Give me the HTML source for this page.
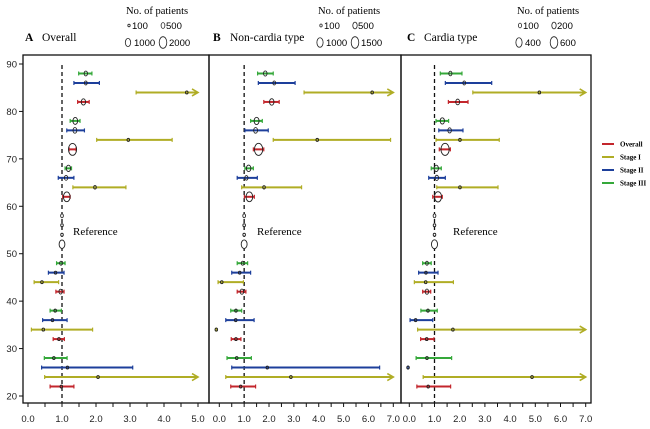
<!DOCTYPE html>
<html><head><meta charset="utf-8"><style>
html,body{margin:0;padding:0;background:#fff;width:650px;height:429px;overflow:hidden}
svg{display:block}
.serif{font-family:"Liberation Serif",serif}
.sans{font-family:"Liberation Sans",sans-serif}
</style></head><body>
<svg id="chart" width="650" height="429" xmlns="http://www.w3.org/2000/svg"></svg>
<script>
// rows (y positions in data units) and series per row
const rowY = [88,86,84,82,78,76,74,72,68,66,64,62,48,46,44,42,38,36,34,32,28,26,24,22];
const rowSeries = ['III','II','I','O','III','II','I','O','III','II','I','O','III','II','I','O','III','II','I','O','III','II','I','O'];
const refY = [58,56,54,52];
// Panel A values (hi null = arrow beyond axis)
const ptA = [1.70,1.70,4.67,1.63,1.39,1.38,2.95,1.31,1.19,1.12,1.97,1.14,0.97,0.81,0.41,0.96,0.80,0.72,0.45,0.91,0.76,1.16,2.06,0.98];
const loA = [1.49,1.35,3.18,1.46,1.24,1.14,2.02,1.21,1.09,0.89,1.32,1.02,0.84,0.60,0.18,0.82,0.65,0.43,0.10,0.74,0.48,0.40,0.49,0.65];
const hiA = [1.88,2.10,null,1.80,1.53,1.66,4.24,1.41,1.28,1.35,2.88,1.24,1.09,1.06,0.90,1.06,0.98,1.15,1.90,1.07,1.15,3.08,null,1.35];
const nA  = [300,200,60,500,600,400,100,1800,500,300,150,1200,200,60,60,300,100,60,40,60,60,40,30,60];
const refNA = [200,40,40,900];
// Panel B
const ptB = [1.85,2.21,6.15,2.11,1.50,1.46,3.94,1.58,1.18,1.09,1.80,1.21,0.94,0.82,0.10,0.91,0.67,0.66,-0.12,0.67,0.70,1.93,2.88,0.86];
const loB = [1.54,1.57,3.41,1.79,1.26,1.03,2.17,1.37,1.03,0.72,0.90,1.01,0.72,0.50,-0.05,0.72,0.46,0.26,-0.12,0.48,0.31,0.50,0.26,0.46];
const hiB = [2.17,3.05,null,2.41,1.73,1.97,6.89,1.79,1.37,1.53,3.31,1.41,1.14,1.26,0.97,1.07,0.90,1.40,-0.12,0.87,1.29,6.45,null,1.46];
const nB  = [250,150,40,400,500,300,80,1400,400,200,100,900,150,40,40,250,60,40,20,40,40,30,20,40];
const refNB = [150,30,30,700];
// Panel C
const ptC = [1.63,2.18,5.16,1.92,1.31,1.60,2.01,1.42,1.07,1.09,2.01,1.14,0.70,0.66,0.65,0.70,0.74,0.25,1.73,0.69,0.70,-0.05,4.87,0.75];
const loC = [1.23,1.43,2.52,1.55,1.06,1.17,1.06,1.19,0.87,0.77,1.09,0.93,0.53,0.37,0.20,0.53,0.46,0.03,0.33,0.45,0.27,-0.05,0.55,0.30];
const hiC = [2.09,3.27,null,2.33,1.56,2.13,3.57,1.63,1.27,1.43,3.52,1.31,0.87,1.14,1.75,0.85,1.11,0.93,null,0.98,1.68,-0.05,null,1.64];
const nC  = [80,60,20,120,150,100,30,550,150,100,30,400,60,30,20,100,30,20,20,30,30,10,10,30];
const refNC = [60,15,15,300];
const yTicks = [20,30,40,50,60,70,80,90];
const colors = {O:'#c3262c', I:'#b0ad25', II:'#1d3f9b', III:'#35a83a'};
const legendNames = ['Overall','Stage  I','Stage II','Stage III'];
const legendKeys = ['O','I','II','III'];

const svg = document.getElementById('chart');
const NS = 'http://www.w3.org/2000/svg';
function mk(tag, attrs, parent){
  const e = document.createElementNS(NS, tag);
  for (const k in attrs) e.setAttribute(k, attrs[k]);
  (parent||svg).appendChild(e); return e;
}
const yTop = 55, yBot = 403;
function yS(v){ return 64 + (90 - v) * (396 - 64) / 70; }

const panels = [
  {key:'A', title:'Overall', l:23, r:209, x0:28, x1:198, max:5, pt:ptA, lo:loA, hi:hiA, n:nA, refN:refNA, nMax:2000, leg:['100','500','1000','2000'], legN:[100,500,1000,2000], titleX:25, legX:126, refTextX:73},
  {key:'B', title:'Non-cardia type', l:209, r:401, x0:219.3, x1:393.3, max:7, pt:ptB, lo:loB, hi:hiB, n:nB, refN:refNB, nMax:1500, leg:['100','500','1000','1500'], legN:[100,500,1000,1500], titleX:213, legX:318, refTextX:257},
  {key:'C', title:'Cardia type', l:401, r:591, x0:409.3, x1:585.7, max:7, pt:ptC, lo:loC, hi:hiC, n:nC, refN:refNC, nMax:600, leg:['100','200','400','600'], legN:[100,200,400,600], titleX:407, legX:517, refTextX:453}
];

panels.forEach((p, pi) => {
  const g = mk('g', {});
  
  
  const xS = v => p.x0 + v * (p.x1 - p.x0) / p.max;
  const rx = n => 4.3 * Math.sqrt(n / p.nMax);
  const ry = n => 6.3 * Math.sqrt(n / p.nMax);
  // titles
  const tl = mk('text', {x:p.titleX, y:41, 'font-size':11.5, 'font-weight':'bold', class:'serif'}, g);
  tl.textContent = p.key;
  
  
  const tt = mk('text', {x:p.titleX + 17, y:41, 'font-size':11.5, class:'serif'}, g);
  tt.textContent = p.title;
  
  
  // size legend
  const lg = mk('g', {}, g);
  
  
  const lt = mk('text', {x:p.legX, y:14, 'font-size':10.5, class:'serif'}, lg);
  lt.textContent = 'No. of patients';
  const pos = [[p.legX+3,29],[p.legX+37,29],[p.legX+2,46],[p.legX+37,46]];
  p.leg.forEach((lab, i) => {
    const [lx, ly] = pos[i];
    const n = p.legN[i];
    const r1 = Math.max(1.2, 3.8*Math.sqrt(n/p.nMax)), r2 = Math.max(1.2, 5.8*Math.sqrt(n/p.nMax));
    const c = mk('ellipse', {cx:lx, cy:ly-3.5, rx:r1, ry:r2, fill:'none', stroke:'#222', 'stroke-width':0.8}, lg);
    
    
    const t = mk('text', {x:lx + (i >= 2 ? 6 : 3), y:ly, 'font-size':9.5, class:'sans'}, lg);
    t.textContent = lab;
  });
  // frame
  const fr = mk('rect', {x:p.l, y:yTop, width:p.r-p.l, height:yBot-yTop, fill:'none', stroke:'#111', 'stroke-width':1.3}, g);
  
  
  // x axis ticks
  for (let v = 0; v <= p.max + 1e-9; v += 0.5) {
    mk('line', {x1:xS(v), x2:xS(v), y1:yBot, y2:yBot+4, stroke:'#111', 'stroke-width':1}, g);
    if (Math.abs(v - Math.round(v)) < 1e-9) {
      const t = mk('text', {x:xS(v), y:422, 'font-size':9.5, 'text-anchor':'middle', class:'sans', fill:'#222'}, g);
      t.textContent = v.toFixed(1);
      
      
    }
  }
  // y axis (panel A only)
  if (pi === 0) {
    yTicks.forEach(v => {
      mk('line', {x1:p.l-4, x2:p.l, y1:yS(v), y2:yS(v), stroke:'#111', 'stroke-width':1}, g);
      const t = mk('text', {x:p.l-6, y:yS(v)+3.5, 'font-size':9.5, 'text-anchor':'end', class:'sans', fill:'#222'}, g);
      t.textContent = v;
      
      
    });
  }
  // reference line
  const rl = mk('line', {x1:xS(1), x2:xS(1), y1:yTop+10, y2:yBot, stroke:'#111', 'stroke-width':1.3, 'stroke-dasharray':'4,3'}, g);
  
  
  // reference circles
  refY.forEach((yv, i) => {
    const c = mk('ellipse', {cx:xS(1), cy:yS(yv), rx:Math.max(1.3, rx(p.refN[i])), ry:Math.max(1.5, ry(p.refN[i])), fill:'#fff', stroke:'#222', 'stroke-width':0.9}, g);
    
    
  });
  const rt = mk('text', {x:p.refTextX, y:235, 'font-size':11, class:'serif'}, g);
  rt.textContent = 'Reference';
  
  
  // series rows
  rowY.forEach((yv, i) => {
    const col = colors[rowSeries[i]];
    const y = yS(yv);
    const lo = xS(p.lo[i]);
    const arrow = p.hi[i] === null;
    const hi = arrow ? xS(p.max) : xS(p.hi[i]);
    const row = mk('g', {}, g);
    
    
    mk('line', {x1:lo, x2:hi, y1:y, y2:y, stroke:col, 'stroke-width':2}, row);
    mk('line', {x1:lo, x2:lo, y1:y-2, y2:y+2, stroke:col, 'stroke-width':1.2}, row);
    if (arrow) {
      mk('path', {d:`M${hi-6},${y-3.5} L${hi},${y} L${hi-6},${y+3.5}`, fill:'none', stroke:col, 'stroke-width':1.6}, row);
    } else {
      mk('line', {x1:hi, x2:hi, y1:y-2, y2:y+2, stroke:col, 'stroke-width':1.2}, row);
    }
    const pt = mk('ellipse', {cx:xS(p.pt[i]), cy:y, rx:Math.max(1.3, rx(p.n[i])), ry:Math.max(1.5, ry(p.n[i])), fill:'none', stroke:'#222', 'stroke-width':0.9}, row);
    
    
  });
});

// color legend
const cl = mk('g', {});


legendNames.forEach((nm, i) => {
  const y = 144 + i * 13;
  const e = mk('g', {}, cl);
  
  
  mk('line', {x1:602, x2:614, y1:y, y2:y, stroke:colors[legendKeys[i]], 'stroke-width':2}, e);
  const t = mk('text', {x:620, y:y+2.5, 'font-size':7, 'font-weight':'bold', class:'serif'}, e);
  t.textContent = nm;
});
</script>
</body></html>
